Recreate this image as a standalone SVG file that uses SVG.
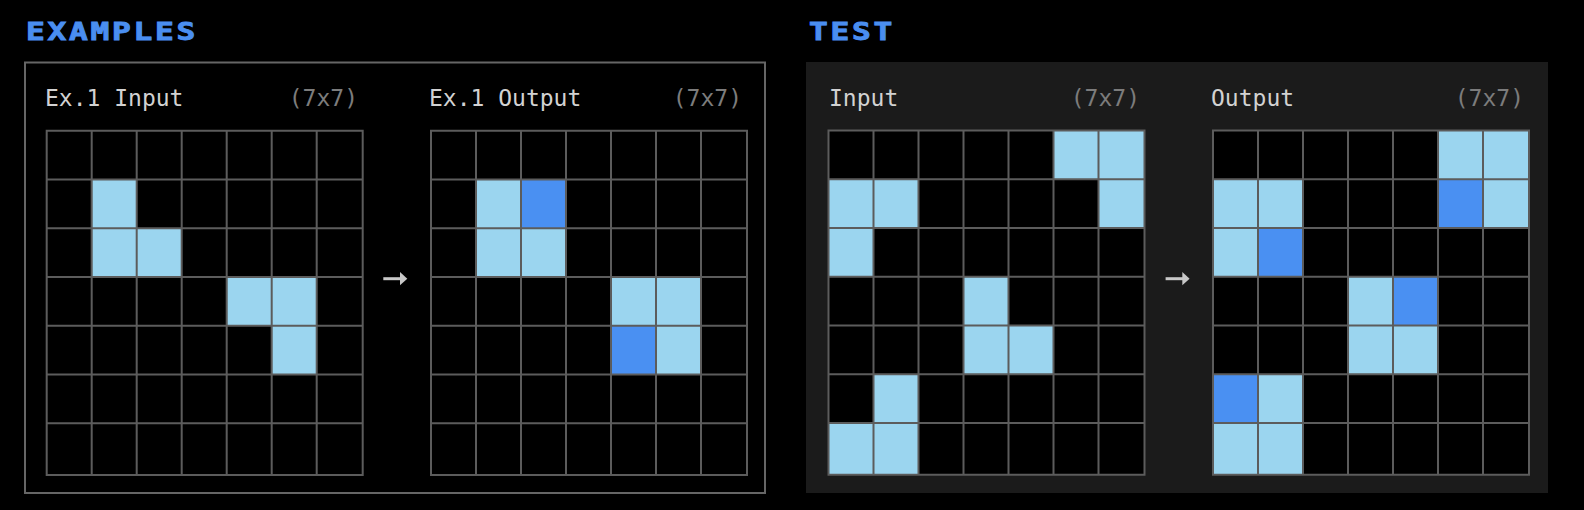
<svg xmlns="http://www.w3.org/2000/svg" width="1584" height="510" viewBox="0 0 1584 510">
<defs>
<style>
.title{font-family:"DejaVu Sans Mono",monospace;font-weight:bold;font-size:24px;letter-spacing:2.1px;fill:#4a8ef0;stroke:#4a8ef0;stroke-width:0.9px}
.lbl{font-family:"DejaVu Sans Mono",monospace;font-size:23px;fill:#d2d2d2}
.dim{font-family:"DejaVu Sans Mono",monospace;font-size:23px;fill:#7c7c7c;text-anchor:end}
.shaft{stroke:#c8c8c8;stroke-width:3;fill:none}
.head{fill:#c8c8c8}
.bg{fill:#000}
.l{fill:#9bd5ef}
.d{fill:#4a90f2}
.gl{fill:none;stroke:#5c5c5c;stroke-width:2}
</style>
<path id="lines" class="gl" d="M0,0H316V344.3H0Z M45,0V344.3 M90,0V344.3 M135,0V344.3 M180,0V344.3 M225,0V344.3 M270,0V344.3 M0,48.75H316 M0,97.5H316 M0,146.25H316 M0,195H316 M0,243.75H316 M0,292.5H316"/>
</defs>
<rect width="1584" height="510" fill="#000"/>

<g id="examples">
<text class="title" transform="translate(26,40) scale(1.3,1)">EXAMPLES</text>
<rect x="25" y="62.5" width="740" height="430.5" fill="none" stroke="#666" stroke-width="2"/>
</g>

<g id="test">
<text class="title" transform="translate(809,40) scale(1.3,1)">TEST</text>
<rect x="806" y="62" width="742" height="431" fill="#1b1b1b"/>
</g>

<g id="ex1-input" transform="translate(46.7,130.7)">
<rect class="bg" width="316" height="344.3"/>
<rect class="l" x="45" y="48.75" width="45" height="48.75"/>
<rect class="l" x="45" y="97.5" width="45" height="48.75"/>
<rect class="l" x="90" y="97.5" width="45" height="48.75"/>
<rect class="l" x="180" y="146.25" width="45" height="48.75"/>
<rect class="l" x="225" y="146.25" width="45" height="48.75"/>
<rect class="l" x="225" y="195" width="45" height="48.75"/>
<use href="#lines"/>
</g>
<g id="ex1-input-label">
<text class="lbl" x="45" y="106">Ex.1 Input</text>
<text class="dim" x="358" y="106">(7x7)</text>
</g>

<g id="ex1-output" transform="translate(431,130.7)">
<rect class="bg" width="316" height="344.3"/>
<rect class="l" x="45" y="48.75" width="45" height="48.75"/>
<rect class="d" x="90" y="48.75" width="45" height="48.75"/>
<rect class="l" x="45" y="97.5" width="45" height="48.75"/>
<rect class="l" x="90" y="97.5" width="45" height="48.75"/>
<rect class="l" x="180" y="146.25" width="45" height="48.75"/>
<rect class="l" x="225" y="146.25" width="45" height="48.75"/>
<rect class="d" x="180" y="195" width="45" height="48.75"/>
<rect class="l" x="225" y="195" width="45" height="48.75"/>
<use href="#lines"/>
</g>
<g id="ex1-output-label">
<text class="lbl" x="429" y="106">Ex.1 Output</text>
<text class="dim" x="742" y="106">(7x7)</text>
</g>

<g id="test-input" transform="translate(828.5,130.5)">
<rect class="bg" width="316" height="344.3"/>
<rect class="l" x="225" y="0" width="45" height="48.75"/>
<rect class="l" x="270" y="0" width="46" height="48.75"/>
<rect class="l" x="0" y="48.75" width="45" height="48.75"/>
<rect class="l" x="45" y="48.75" width="45" height="48.75"/>
<rect class="l" x="270" y="48.75" width="46" height="48.75"/>
<rect class="l" x="0" y="97.5" width="45" height="48.75"/>
<rect class="l" x="135" y="146.25" width="45" height="48.75"/>
<rect class="l" x="135" y="195" width="45" height="48.75"/>
<rect class="l" x="180" y="195" width="45" height="48.75"/>
<rect class="l" x="45" y="243.75" width="45" height="48.75"/>
<rect class="l" x="0" y="292.5" width="45" height="51.8"/>
<rect class="l" x="45" y="292.5" width="45" height="51.8"/>
<use href="#lines"/>
</g>
<g id="test-input-label">
<text class="lbl" x="829" y="106">Input</text>
<text class="dim" x="1140" y="106">(7x7)</text>
</g>

<g id="test-output" transform="translate(1213,130.5)">
<rect class="bg" width="316" height="344.3"/>
<rect class="l" x="225" y="0" width="45" height="48.75"/>
<rect class="l" x="270" y="0" width="46" height="48.75"/>
<rect class="l" x="0" y="48.75" width="45" height="48.75"/>
<rect class="l" x="45" y="48.75" width="45" height="48.75"/>
<rect class="d" x="225" y="48.75" width="45" height="48.75"/>
<rect class="l" x="270" y="48.75" width="46" height="48.75"/>
<rect class="l" x="0" y="97.5" width="45" height="48.75"/>
<rect class="d" x="45" y="97.5" width="45" height="48.75"/>
<rect class="l" x="135" y="146.25" width="45" height="48.75"/>
<rect class="d" x="180" y="146.25" width="45" height="48.75"/>
<rect class="l" x="135" y="195" width="45" height="48.75"/>
<rect class="l" x="180" y="195" width="45" height="48.75"/>
<rect class="d" x="0" y="243.75" width="45" height="48.75"/>
<rect class="l" x="45" y="243.75" width="45" height="48.75"/>
<rect class="l" x="0" y="292.5" width="45" height="51.8"/>
<rect class="l" x="45" y="292.5" width="45" height="51.8"/>
<use href="#lines"/>
</g>
<g id="test-output-label">
<text class="lbl" x="1211" y="106">Output</text>
<text class="dim" x="1524" y="106">(7x7)</text>
</g>

<g id="connectors">
<path class="shaft" d="M383.3,278.7H401"/>
<polygon class="head" points="400,272 407.3,278.7 400,285.3"/>
<path class="shaft" d="M1165.6,278.7H1183.3"/>
<polygon class="head" points="1182.3,272 1189.6,278.7 1182.3,285.3"/>
</g>
</svg>
